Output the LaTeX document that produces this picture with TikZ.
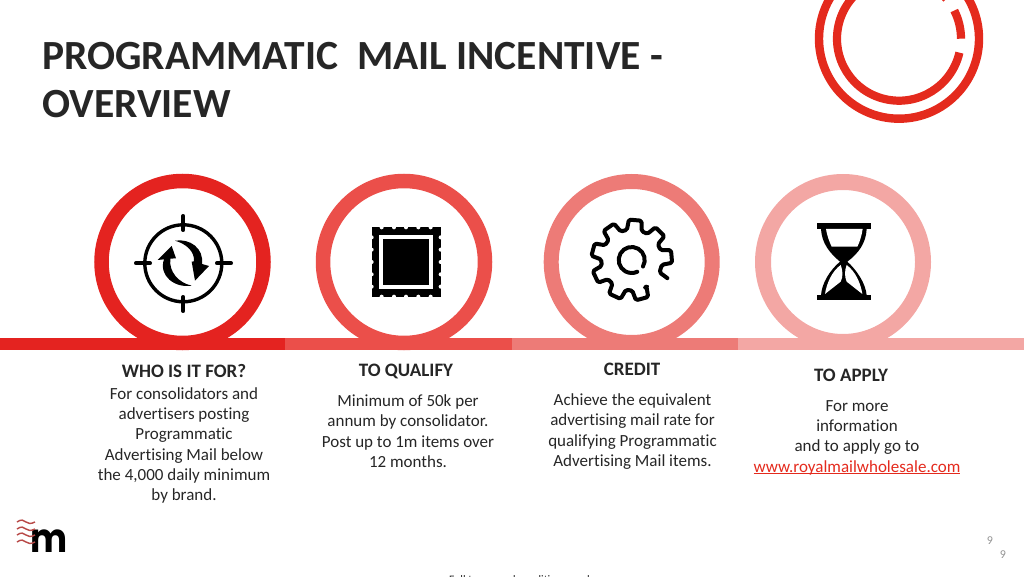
\documentclass[tikz,border=0pt]{standalone}
\usepackage{fontspec}
\setmainfont{Carlito}[Ligatures=CommonOff]
\newfontfamily\logofont{Poppins}
\definecolor{stepA}{HTML}{E42320}
\definecolor{stepB}{HTML}{EB4F4A}
\definecolor{stepC}{HTML}{ED7B77}
\definecolor{stepD}{HTML}{F3A7A4}
\definecolor{inkc}{HTML}{262626}
\definecolor{logored}{HTML}{E42A1D}
\definecolor{wavec}{HTML}{B84A48}
\newcommand{\ulink}[1]{\setbox0\hbox{#1}\rlap{\rule[-2.2pt]{\wd0}{0.9pt}}\box0 }
\tikzset{
  x=1pt,y=1pt,
  ringshape/.style={line width=14.5pt,draw},
  headtext/.style={font=\fontsize{19}{22}\selectfont\bfseries,text=inkc,inner sep=0pt},
  bodytext/.style={font=\fontsize{17}{20.35}\selectfont,text=inkc,align=center,inner sep=0pt},
  pagenum/.style={font=\fontsize{12}{14}\selectfont,text=gray!85,inner sep=0pt},
  zoomA/.style={x=0.33333pt,y=-0.33333pt,shift={(90pt,406pt)}},
  zoomB/.style={x=0.33333pt,y=-0.33333pt,shift={(530pt,406pt)}},
}
\begin{document}
\begin{tikzpicture}
\useasboundingbox (0,0) rectangle (1024,576);
\clip (0,0) rectangle (1024,576);
% top logo
\draw[logored,line width=8.4pt] (899,537.3) circle (80);
\draw[logored,line width=8.2pt] (899,537.3)+(-13:62) arc (-13:-320:62);
\draw[logored,line width=8.2pt] (899,537.3)+(0:62) arc (0:27:62);
% title
\node[anchor=north west,inner sep=0pt,align=left,text=inkc,font=\fontsize{41.5}{48}\selectfont\bfseries] (title) at (42,533.5) {PROGRAMMATIC\ \ MAIL INCENTIVE -\\OVERVIEW};
% rings
\draw[ringshape,stepA] (182.5,314) circle (81);
\draw[ringshape,stepB] (404,314) circle (81);
\draw[ringshape,stepC,line width=15pt] (631.7,314) circle (80.5);
\draw[ringshape,stepD,line width=16pt] (843,314) circle (80);
% bar
\fill[stepA] (0,226) rectangle (285,238.5);
\fill[stepB] (285,226) rectangle (512,238.5);
\fill[stepC] (512,226) rectangle (738,238.5);
\fill[stepD] (738,226) rectangle (1024,238.5);
% icon 1
\draw[black,line width=3.4pt] (183.3,312.7) circle (38.5);
\draw[black,line width=4pt,line cap=round]
  (136,312.7) -- (150,312.7) (217,312.7) -- (231,312.7)
  (183.3,360) -- (183.3,346) (183.3,279) -- (183.3,265);
\begin{scope}[zoomA]
\fill[black] (255,212) .. controls (300,205) and (342,235) .. (336,282) -- (357,288) -- (315,332) -- (305,275) -- (312,274) .. controls (314,245) and (290,222) .. (255,212) -- cycle;
\fill[black] (305,347) .. controls (255,355) and (205,318) .. (222,268) -- (203,270) -- (245,228) -- (258,265) -- (241,266) .. controls (236,305) and (265,338) .. (305,347) -- cycle;
% icon 2
\fill[black] (845,172) rectangle (1052,380);
\foreach \t in {875,912,948,985,1022}{
  \fill[white] (\t,172) circle (2pt);
  \fill[white] (\t,380) circle (2pt);
}
\foreach \t in {202,239,276,313,350}{
  \fill[white] (845,\t) circle (2pt);
  \fill[white] (1052,\t) circle (2pt);
}
\fill[white] (867,195) rectangle (1030,357);
\fill[black] (878,207) rectangle (1018,346);
\end{scope}
% icon 3
\begin{scope}[shift={(631.7,316)}]
\draw[black,line width=4pt,line cap=round,line join=round,rounded corners=1.6pt]
  (-60:30.5) -- (-63:30.5)
  \foreach \a in {-75,-115,-155,-195,-235,-275,-315,-355}{
    -- (\a+14:30.5) -- (\a+9:40.5) -- (\a-9:40.5) -- (\a-14:30.5)
  } -- (-24:30.5) -- (-27:40);
\draw[black,line width=4pt,line cap=round] (-30:13) arc (-30:295:13);
\end{scope}
% icon 4
\begin{scope}[zoomB]
\fill[black] (861,160) rectangle (1022,177);
\fill[black] (861,375) rectangle (1022,390);
\fill[black] (873,177) .. controls (875,220) and (900,250) .. (930,275) .. controls (900,300) and (875,340) .. (873,376) -- (1010,376) .. controls (1007,340) and (980,300) .. (952,275) .. controls (985,250) and (1008,220) .. (1010,177) -- cycle;
\fill[white] (888,177) .. controls (892,200) and (898,215) .. (905,230) -- (982,230) .. controls (990,215) and (995,195) .. (998,177) -- cycle;
\fill[white] (932,285) .. controls (905,305) and (890,340) .. (885,372) -- (932,335) .. controls (940,320) and (938,300) .. (932,285) -- cycle;
\fill[white] (950,285) .. controls (977,305) and (992,340) .. (997,372) -- (950,335) .. controls (943,320) and (944,300) .. (950,285) -- cycle;
\end{scope}
% column texts
\node[headtext] (h1) at (184,205) {WHO IS IT FOR?};
\node[bodytext] (b1) at (184,130.5) {For consolidators and\\advertisers posting\\Programmatic\\Advertising Mail below\\the 4,000 daily minimum\\by brand.};
\node[headtext] (h2) at (406,205) {TO QUALIFY};
\node[bodytext] (b2) at (408,145) {Minimum of 50k per\\annum by consolidator.\\Post up to 1m items over\\12 months.};
\node[headtext] (h3) at (632,207) {CREDIT};
\node[bodytext] (b3) at (632.5,144.5) {Achieve the equivalent\\advertising mail rate for\\qualifying Programmatic\\Advertising Mail items.};
\node[headtext] (h4) at (851,201) {TO APPLY};
\node[bodytext] (b4) at (857,138.5) {For more\\information\\and to apply go to\\\textcolor{logored}{\ulink{www.royalmailwholesale.com}}};
% page numbers
\node[pagenum] (p1) at (990,35) {9};
\node[pagenum] (p2) at (1003,21) {9};
% clipped footnote
\node[font=\fontsize{11.5}{14}\selectfont,text=inkc,inner sep=0pt] (foot) at (522,-4) {Full terms and conditions apply};
% bottom logo
\node[font=\fontsize{35}{35}\selectfont\logofont\bfseries,text=black,inner sep=0pt,anchor=base,yscale=1.15,transform shape] (mlogo) at (49,24) {m};
\foreach \y in {54,47,41,34}{
  \draw[wavec,line width=1.4pt] (17,\y) .. controls (21,\y+3) and (24,\y+2) .. (26,\y) .. controls (28,\y-2) and (31,\y-2) .. (35,\y);
}
\end{tikzpicture}
\end{document}
